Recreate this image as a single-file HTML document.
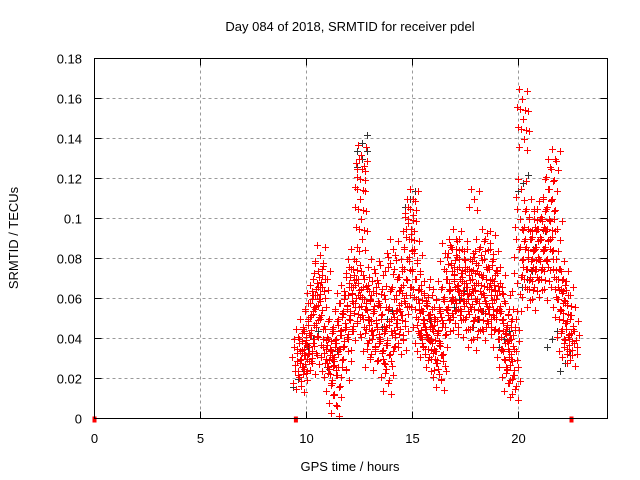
<!DOCTYPE html>
<html><head><meta charset="utf-8"><style>
body{margin:0;background:#fff}
svg{display:block;font-family:"Liberation Sans",sans-serif;font-size:13px}
</style></head><body>
<svg id="chart" width="640" height="480">
<text x="350" y="31" text-anchor="middle">Day 084 of 2018, SRMTID for receiver pdel</text>
<text x="350" y="471" text-anchor="middle">GPS time / hours</text>
<text transform="translate(18,238) rotate(-90)" text-anchor="middle">SRMTID / TECUs</text>
<g id="grid"></g>
<g id="ticks"></g>
<g id="black"></g>
<g id="red"></g>
<rect x="94.5" y="58.5" width="513" height="360" fill="none" stroke="#000"/>
</svg>
<script>
const xTicks=[0,5,10,15,20];
const yTicks=[0,0.02,0.04,0.06,0.08,0.1,0.12,0.14,0.16,0.18];
const yTickLabels=["0","0.02","0.04","0.06","0.08","0.1","0.12","0.14","0.16","0.18"];
const redTimes=[
9.55,9.6,9.65,9.7,9.75,9.8,9.85,9.9,9.95,10.0,
10.05,10.1,10.15,10.2,10.25,10.3,10.35,10.4,10.45,10.5,
10.55,10.6,10.65,10.7,10.75,10.8,10.85,10.9,10.95,11.0,
11.05,11.1,11.15,11.2,11.25,11.3,11.35,11.4,11.45,11.5,
11.55,11.6,11.65,11.7,11.75,11.8,11.85,11.9,11.95,12.0,
12.05,12.1,12.15,12.2,12.25,12.3,12.35,12.4,12.45,12.5,
12.52,12.55,12.58,12.6,12.62,12.65,12.7,12.75,12.8,12.85,
12.9,12.95,13.0,13.05,13.1,13.15,13.2,13.25,13.3,13.35,
13.4,13.45,13.5,13.55,13.6,13.65,13.7,13.75,13.8,13.85,
13.9,13.95,14.0,14.05,14.1,14.15,14.2,14.25,14.3,14.35,
14.4,14.45,14.5,14.55,14.6,14.65,14.7,14.75,14.8,14.85,
14.9,14.95,15.0,15.05,15.1,15.15,15.2,15.25,15.3,15.35,
15.4,15.45,15.5,15.55,15.6,15.65,15.7,15.75,15.8,15.85,
15.9,15.95,16.0,16.05,16.1,16.15,16.2,16.25,16.3,16.35,
16.4,16.45,16.5,16.55,16.6,16.65,16.7,16.75,16.8,16.85,
16.9,16.95,17.0,17.05,17.1,17.15,17.2,17.25,17.3,17.35,
17.4,17.45,17.5,17.55,17.6,17.65,17.7,17.75,17.8,17.85,
17.9,17.95,18.0,18.05,18.1,18.15,18.2,18.25,18.3,18.35,
18.4,18.45,18.5,18.55,18.6,18.65,18.7,18.75,18.8,18.85,
18.9,18.95,19.0,19.05,19.1,19.15,19.2,19.25,19.3,19.35,
19.4,19.45,19.5,19.55,19.6,19.65,19.7,19.75,19.8,19.85,
19.9,19.95,20.0,20.05,20.1,20.15,20.2,20.25,20.3,20.35,
20.4,20.45,20.5,20.55,20.6,20.65,20.7,20.75,20.8,20.85,
20.9,20.95,21.0,21.05,21.1,21.15,21.2,21.25,21.3,21.35,
21.4,21.45,21.5,21.55,21.6,21.65,21.7,21.75,21.8,21.85,
21.9,21.95,22.0,22.05,22.1,22.15,22.2,22.25,22.3,22.35,
22.4,22.45,22.5,22.55,22.6];
const redValues=[
.035,.022,.04,.028,.019,.033,.045,.025,.038,.03,
.05,.036,.058,.042,.028,.062,.047,.055,.033,.068,
.074,.06,.082,.052,.066,.045,.07,.035,.028,.04,
.025,.032,.018,.045,.03,.012,.038,.007,.022,.05,
.035,.058,.042,.03,.062,.048,.025,.055,.04,.068,
.052,.075,.045,.066,.08,.058,.07,.048,.062,.11,
.12,.132,.1,.125,.09,.072,.06,.055,.045,.065,
.038,.05,.03,.062,.042,.055,.075,.035,.048,.068,
.058,.04,.052,.033,.072,.045,.06,.025,.038,.018,
.032,.078,.05,.042,.085,.06,.048,.07,.038,.055,
.045,.066,.052,.04,.075,.058,.062,.08,.098,.09,
.105,.095,.11,.085,.07,.06,.078,.05,.065,.042,
.055,.038,.048,.062,.035,.045,.058,.04,.052,.03,
.045,.065,.035,.05,.028,.042,.025,.055,.038,.02,
.032,.048,.06,.083,.055,.07,.065,.05,.078,.085,
.06,.072,.048,.09,.065,.055,.08,.07,.062,.085,
.05,.068,.058,.075,.045,.063,.08,.055,.07,.04,
.11,.06,.078,.05,.068,.085,.055,.072,.045,.062,
.09,.058,.075,.048,.065,.088,.05,.07,.08,.06,
.072,.05,.062,.04,.055,.068,.035,.048,.03,.058,
.045,.025,.038,.018,.042,.03,.05,.022,.035,.015,
.05,.068,.085,.1,.115,.16,.15,.14,.09,.075,
.065,.08,.1,.07,.09,.06,.085,.105,.075,.095,
.08,.07,.1,.09,.075,.085,.065,.095,.105,.08,
.115,.1,.09,.125,.11,.08,.13,.07,.095,.06,
.075,.055,.065,.045,.07,.038,.058,.048,.035,.062,
.04,.052,.032,.045,.038];
const blackTimes=[9.6,10.3,11.2,12.6,12.62,13.8,14.9,15.6,17.2,18.1,19.3,20.2,20.4,21.0,21.6,22.2];
const blackValues=[.02,.04,.03,.138,.13,.05,.11,.045,.06,.05,.04,.118,.07,.09,.04,.028];
const zeroTimes=[0,9.5,22.5];
const zeroValues=[0,0,0];

const X0=94.5,XS=21.2,Y0=418.5,YS=2000;
const xs=t=>X0+t*XS, ys=v=>Y0-v*YS;
const NS="http://www.w3.org/2000/svg";
function mk(tag,attrs,parent){const e=document.createElementNS(NS,tag);for(const k in attrs)e.setAttribute(k,attrs[k]);parent.appendChild(e);return e;}
const grid=document.getElementById('grid'),ticks=document.getElementById('ticks');
yTicks.forEach((v,i)=>{const y=ys(v);
 if(i>0&&i<yTicks.length-1){const g=mk('line',{x1:X0,x2:607.5,y1:y,y2:y,stroke:'#999','stroke-dasharray':'3,3'},grid);
 
 }
 mk('line',{x1:X0,x2:X0+7,y1:y,y2:y,stroke:'#000'},ticks);
 mk('line',{x1:600.5,x2:607.5,y1:y,y2:y,stroke:'#000'},ticks);
 const t=mk('text',{x:82,y:y+5,'text-anchor':'end'},ticks);t.textContent=yTickLabels[i];
 
 });
xTicks.forEach(v=>{const x=xs(v);
 if(v>0){const g=mk('line',{x1:x,x2:x,y1:58.5,y2:Y0,stroke:'#999','stroke-dasharray':'3,3'},grid);
 
 }
 mk('line',{x1:x,x2:x,y1:Y0,y2:Y0-7,stroke:'#000'},ticks);
 mk('line',{x1:x,x2:x,y1:58.5,y2:65.5,stroke:'#000'},ticks);
 const t=mk('text',{x:x,y:443,'text-anchor':'middle'},ticks);t.textContent=String(v);
 
 });
// marker glyph: a small scattered cluster of plus signs (style only)
const cluster=[[0,0],[-5,8],[5,-8],[3,11],[-3,-10]];
function plot(times,vals,color,parent,name,cl){
 times.forEach((t,i)=>{const x=xs(t),y=ys(vals[i]);let d='';
  cl.forEach(([dx,dy])=>{const px=Math.round(x+dx)+.5,py=Math.round(y+dy)+.5;d+=`M${px-3.5} ${py}h7M${px} ${py-3.5}v7`;});
  const p=mk('path',{d:d,stroke:color,'stroke-width':1,fill:'none'},parent);
  
  });}
plot(blackTimes,blackValues,'#333',document.getElementById('black'),'black-point',cluster.slice(0,3));
plot(redTimes,redValues,'#f00',document.getElementById('red'),'red-point',cluster);
zeroTimes.forEach((t,i)=>{const r=mk('rect',{x:xs(t)-2,y:ys(zeroValues[i])-2,width:4,height:6,fill:'#f00'},document.getElementById('red'));
 
 });
</script>
</body></html>
